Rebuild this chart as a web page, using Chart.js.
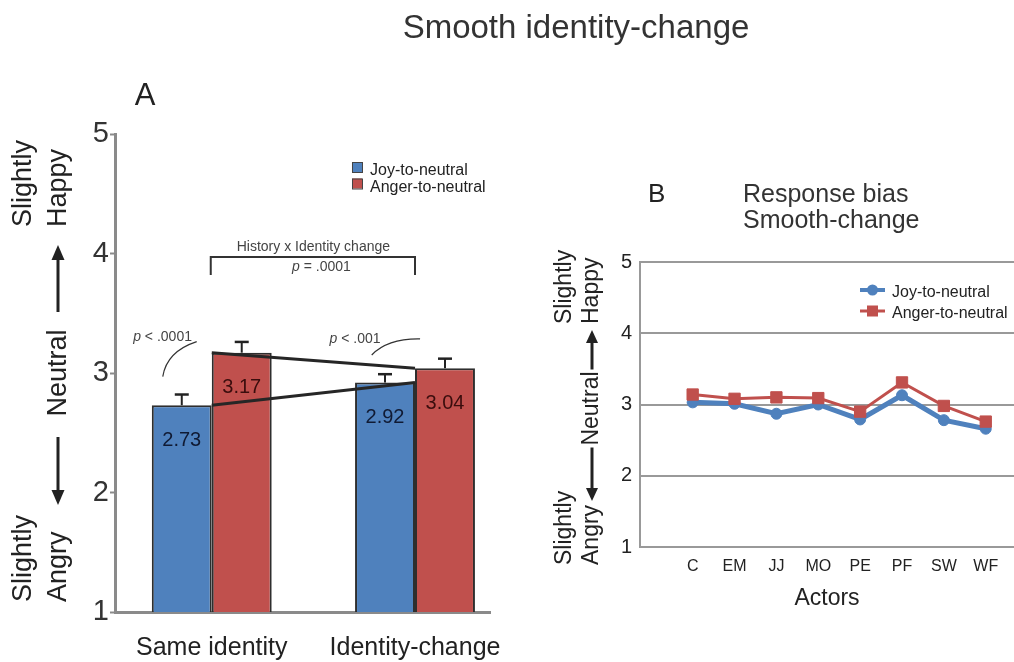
<!DOCTYPE html>
<html><head><meta charset="utf-8">
<script src="https://cdn.jsdelivr.net/npm/chart.js@4.4.1/dist/chart.umd.min.js"></script>
<style>
html,body{margin:0;padding:0;background:#fff;}
#wrap{position:relative;width:1014px;height:662px;overflow:hidden;background:#fff;}
#wrap canvas{position:absolute;left:0;top:0;}
#cB{pointer-events:none;}
</style></head><body>
<div id="wrap">
<canvas id="cA" width="1014" height="662"></canvas>
<canvas id="cB" width="1014" height="662"></canvas>
</div>
<script>
// ---------- DATA ----------
const groupLabels = ['Same identity', 'Identity-change'];
const joyMeans = [2.73, 2.92];
const angerMeans = [3.17, 3.04];
const joyErr = [0.09, 0.07];
const angerErr = [0.09, 0.08];
const yTicks = [1, 2, 3, 4, 5];

const actors = ['C', 'EM', 'JJ', 'MO', 'PE', 'PF', 'SW', 'WF'];
const joyByActor = [3.03, 3.01, 2.87, 3.00, 2.79, 3.13, 2.78, 2.66];
const angerByActor = [3.14, 3.08, 3.10, 3.09, 2.90, 3.31, 2.98, 2.76];

const seriesNames = ['Joy-to-neutral', 'Anger-to-neutral'];

// ---------- STYLE ----------
const FONT = '"Liberation Sans", Arial, Helvetica, sans-serif';
const BLUE = '#4f81bd', RED = '#c0504d';
const AX = '#8a8a8a', GRID = '#999999', TXT = '#222';

function rotText(ctx, text, x, y, align) {
  ctx.save();
  ctx.translate(x, y);
  ctx.rotate(-Math.PI / 2);
  ctx.textAlign = align || 'left';
  ctx.textBaseline = 'alphabetic';
  ctx.fillText(text, 0, 0);
  ctx.restore();
}
function arrow(ctx, x, y0, y1, head, hw, lw) {
  const dir = Math.sign(y1 - y0);
  ctx.lineWidth = lw;
  ctx.beginPath(); ctx.moveTo(x, y0); ctx.lineTo(x, y1 - dir * head * 0.8); ctx.stroke();
  ctx.beginPath(); ctx.moveTo(x, y1); ctx.lineTo(x - hw / 2, y1 - dir * head); ctx.lineTo(x + hw / 2, y1 - dir * head); ctx.closePath(); ctx.fill();
}
function pText(ctx, rest, cx, y, size) {
  ctx.font = 'italic ' + size + 'px ' + FONT;
  const w1 = ctx.measureText('p').width;
  ctx.font = size + 'px ' + FONT;
  const w2 = ctx.measureText(rest).width;
  const x0 = cx - (w1 + w2) / 2;
  ctx.textAlign = 'left';
  ctx.font = 'italic ' + size + 'px ' + FONT;
  ctx.fillText('p', x0, y);
  ctx.font = size + 'px ' + FONT;
  ctx.fillText(rest, x0 + w1, y);
}

// ---------- PANEL A ----------
const annotA = {
  id: 'annotA',
  afterDatasetsDraw(chart) {
    const ctx = chart.ctx, ys = chart.scales.y;
    chart.data.datasets.forEach((ds, di) => {
      if (!ds.errors) return;
      const meta = chart.getDatasetMeta(di);
      meta.data.forEach((bar, i) => {
        const v = ds.data[i].y;
        const top = ys.getPixelForValue(v);
        const et = ys.getPixelForValue(v + ds.errors[i]);
        ctx.save();
        ctx.strokeStyle = '#222';
        ctx.lineWidth = 2;
        ctx.beginPath(); ctx.moveTo(bar.x, top); ctx.lineTo(bar.x, et); ctx.stroke();
        ctx.lineWidth = 2.5;
        ctx.beginPath(); ctx.moveTo(bar.x - 7, et); ctx.lineTo(bar.x + 7, et); ctx.stroke();
        ctx.fillStyle = ds.labelColor;
        ctx.font = '20px ' + FONT;
        ctx.textAlign = 'center'; ctx.textBaseline = 'middle';
        ctx.fillText(v.toFixed(2), bar.x, top + 35);
        ctx.restore();
      });
    });
  },
  afterDraw(chart) {
    const ctx = chart.ctx, ys = chart.scales.y, xs = chart.scales.x;
    const X = v => xs.getPixelForValue(v), Y = v => ys.getPixelForValue(v);
    ctx.save();
    // main title
    ctx.fillStyle = '#333';
    ctx.font = '33px ' + FONT;
    ctx.textAlign = 'center'; ctx.textBaseline = 'alphabetic';
    ctx.fillText('Smooth identity-change', 576, 38);
    // panel letter
    ctx.fillStyle = '#222';
    ctx.font = '31px ' + FONT;
    ctx.fillText('A', 145, 105);
    // legend
    const lx = X(1.69), ly = Y(5) + 28;
    [BLUE, RED].forEach((c, i) => {
      ctx.fillStyle = c;
      ctx.fillRect(lx, ly + i * 16.5, 10, 10);
      ctx.strokeStyle = '#444'; ctx.lineWidth = 1;
      ctx.strokeRect(lx + 0.5, ly + i * 16.5 + 0.5, 10, 10);
      ctx.fillStyle = '#222';
      ctx.font = '16px ' + FONT; ctx.textAlign = 'left';
      ctx.fillText(seriesNames[i], lx + 18, ly + 13 + i * 16.5);
    });
    // bracket
    ctx.strokeStyle = '#333'; ctx.lineWidth = 2;
    const by = Y(3.97), bd = Y(3.82);
    ctx.beginPath();
    ctx.moveTo(X(1) - 1, bd); ctx.lineTo(X(1) - 1, by); ctx.lineTo(X(2), by); ctx.lineTo(X(2), bd);
    ctx.stroke();
    ctx.fillStyle = '#444';
    ctx.font = '14px ' + FONT; ctx.textAlign = 'center';
    ctx.fillText('History x Identity change', X(1.5), Y(4.02));
    pText(ctx, ' = .0001', X(1.54), Y(3.85), 14);
    pText(ctx, ' < .0001', X(0.758), Y(3.265), 14);
    pText(ctx, ' < .001', X(1.705), Y(3.251), 14);
    // arcs
    ctx.strokeStyle = '#333'; ctx.lineWidth = 1.2;
    ctx.beginPath();
    ctx.moveTo(X(0.759), Y(2.97));
    ctx.quadraticCurveTo(X(0.779), Y(3.18), X(0.926), Y(3.262));
    ctx.stroke();
    ctx.beginPath();
    ctx.moveTo(X(1.787), Y(3.151));
    ctx.quadraticCurveTo(X(1.867), Y(3.29), X(2.025), Y(3.285));
    ctx.stroke();
    // rotated y title
    ctx.fillStyle = '#222'; ctx.strokeStyle = '#222';
    ctx.font = '27px ' + FONT;
    rotText(ctx, 'Slightly', 31, Y(5) + 93);
    rotText(ctx, 'Happy', 66, Y(5) + 93);
    rotText(ctx, 'Neutral', 66, Y(3), 'center');
    rotText(ctx, 'Slightly', 31, Y(1) - 10);
    rotText(ctx, 'Angry', 66, Y(1) - 10);
    arrow(ctx, 58, Y(3) - 61, Y(5) + 111, 15, 13, 3);
    arrow(ctx, 58, Y(3) + 64, Y(1) - 107, 15, 13, 3);
    ctx.restore();
  }
};

const lineDs = (vals) => ({
  type: 'line', data: groupLabels.map((_, i) => ({ x: i + 1, y: vals[i] })),
  borderColor: '#262626', borderWidth: 3, pointRadius: 0, fill: false, order: 0
});
const barDs = (name, vals, col, errs, lc) => ({
  type: 'bar', label: name, data: groupLabels.map((_, i) => ({ x: i + 1, y: vals[i] })),
  backgroundColor: col, borderColor: '#2e2e2e', borderWidth: 2, borderSkipped: false,
  categoryPercentage: 0.59, barPercentage: 1, order: 1, errors: errs, labelColor: lc
});

new Chart(document.getElementById('cA'), {
  type: 'bar',
  data: {
    datasets: [
      lineDs(joyMeans), lineDs(angerMeans),
      barDs(seriesNames[0], joyMeans, BLUE, joyErr, '#101a33'),
      barDs(seriesNames[1], angerMeans, RED, angerErr, '#3a0d0d')
    ]
  },
  options: {
    responsive: false, animation: false, devicePixelRatio: 1,
    layout: { autoPadding: false, padding: { left: 70, top: 134, right: 524, bottom: 0 } },
    plugins: { legend: { display: false }, tooltip: { enabled: false } },
    scales: {
      x: {
        type: 'linear', min: 0.524, max: 2.369, offset: false,
        afterBuildTicks: s => { s.ticks = groupLabels.map((_, i) => ({ value: i + 1 })); },
        afterFit: s => { s.height = 50; s.paddingLeft = 0; s.paddingRight = 0; },
        grid: { display: false, drawTicks: false },
        border: { display: true, color: AX, width: 3 },
        ticks: { autoSkip: false, maxRotation: 0, padding: 21, color: TXT,
          font: { family: FONT, size: 25 }, callback: v => groupLabels[v - 1] }
      },
      y: {
        min: 1, max: 5,
        afterBuildTicks: s => { s.ticks = yTicks.map(v => ({ value: v })); },
        afterFit: s => { s.width = 45; },
        grid: { drawOnChartArea: false, drawTicks: true, tickLength: 5, tickWidth: 2, tickColor: AX, color: AX },
        border: { color: AX, width: 3 },
        ticks: { padding: 1, color: '#333', font: { family: FONT, size: 29 } }
      }
    }
  },
  plugins: [annotA]
});

// ---------- PANEL B ----------
const annotB = {
  id: 'annotB',
  afterDraw(chart) {
    const ctx = chart.ctx, ys = chart.scales.y;
    const Y = v => ys.getPixelForValue(v);
    ctx.save();
    ctx.fillStyle = '#222'; ctx.strokeStyle = '#222';
    ctx.textBaseline = 'alphabetic'; ctx.textAlign = 'left';
    ctx.font = '26px ' + FONT;
    ctx.fillText('B', 648, 201.5);
    ctx.font = '25px ' + FONT;
    ctx.fillStyle = '#333';
    ctx.fillText('Response bias', 743, 201.5);
    ctx.fillText('Smooth-change', 743, 228);
    // legend
    const lx = 860, ly = Y(5) + 28;
    chart.data.datasets.forEach((ds, i) => {
      const y = ly + i * 21;
      ctx.strokeStyle = ds.borderColor; ctx.fillStyle = ds.borderColor;
      ctx.lineWidth = ds.borderWidth === 5 ? 4 : 3;
      ctx.beginPath(); ctx.moveTo(lx, y); ctx.lineTo(lx + 25, y); ctx.stroke();
      if (ds.pointStyle === 'rect') ctx.fillRect(lx + 12.5 - 5.5, y - 5.5, 11, 11);
      else { ctx.beginPath(); ctx.arc(lx + 12.5, y, 5.5, 0, Math.PI * 2); ctx.fill(); }
      ctx.fillStyle = '#222';
      ctx.font = '16px ' + FONT;
      ctx.fillText(seriesNames[i], 892, y + 7);
    });
    // rotated y title
    ctx.fillStyle = '#222'; ctx.strokeStyle = '#222';
    ctx.font = '23px ' + FONT;
    rotText(ctx, 'Slightly', 571, Y(5) + 62);
    rotText(ctx, 'Happy', 598, Y(5) + 62);
    rotText(ctx, 'Neutral', 598, Y(3) + 4, 'center');
    rotText(ctx, 'Slightly', 571, Y(1) + 18);
    rotText(ctx, 'Angry', 598, Y(1) + 18);
    arrow(ctx, 592, Y(3) - 35, Y(5) + 68, 13, 12, 3);
    arrow(ctx, 592, Y(3) + 43, Y(1) - 46, 13, 12, 3);
    ctx.restore();
  }
};

new Chart(document.getElementById('cB'), {
  type: 'line',
  data: {
    datasets: [
      { label: seriesNames[0], data: actors.map((_, i) => ({ x: i, y: joyByActor[i] })),
        borderColor: BLUE, backgroundColor: BLUE, pointBackgroundColor: BLUE, pointBorderColor: BLUE,
        borderWidth: 5, pointStyle: 'circle', pointRadius: 5.5, pointBorderWidth: 1, order: 1 },
      { label: seriesNames[1], data: actors.map((_, i) => ({ x: i, y: angerByActor[i] })),
        borderColor: RED, backgroundColor: RED, pointBackgroundColor: RED, pointBorderColor: RED,
        borderWidth: 3, pointStyle: 'rect', pointRadius: 8, pointBorderWidth: 1, order: 0 }
    ]
  },
  options: {
    responsive: false, animation: false, devicePixelRatio: 1,
    layout: { autoPadding: false, padding: { left: 590, top: 262, right: 0, bottom: 46 } },
    plugins: { legend: { display: false }, tooltip: { enabled: false } },
    scales: {
      x: {
        type: 'linear', min: -1.258, max: 7.675, offset: false,
        afterBuildTicks: s => { s.ticks = actors.map((_, i) => ({ value: i })); },
        afterFit: s => { s.height = 69; s.paddingLeft = 0; s.paddingRight = 0; },
        grid: { display: false, drawTicks: false },
        border: { display: true, color: GRID, width: 2 },
        ticks: { autoSkip: false, maxRotation: 0, padding: 10, color: TXT,
          font: { family: FONT, size: 16 }, callback: v => actors[v] },
        title: { display: true, text: 'Actors', color: TXT, font: { family: FONT, size: 23 }, padding: { top: 4, bottom: 4 } }
      },
      y: {
        min: 1, max: 5,
        afterBuildTicks: s => { s.ticks = yTicks.map(v => ({ value: v })); },
        afterFit: s => { s.width = 50; s.paddingTop = 0; s.paddingBottom = 0; },
        grid: { color: GRID, lineWidth: 2, drawTicks: false },
        border: { color: GRID, width: 2 },
        ticks: { padding: 8, color: TXT, font: { family: FONT, size: 20 } }
      }
    }
  },
  plugins: [annotB]
});
</script>
</body></html>
